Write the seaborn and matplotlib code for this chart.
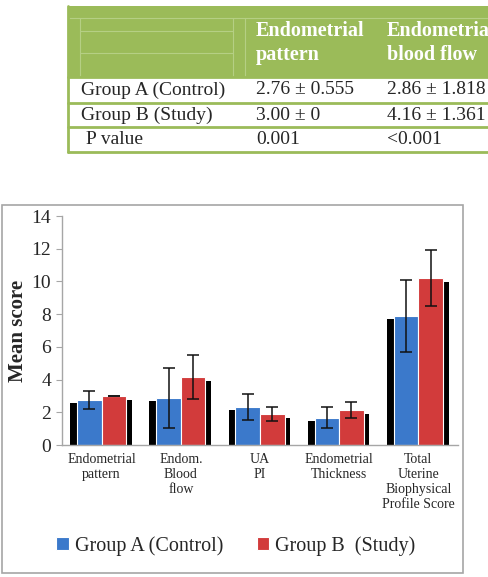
import numpy as np
import pandas as pd
import matplotlib
matplotlib.use("Agg")
import matplotlib.pyplot as plt
import matplotlib.patheffects as pe
from matplotlib.patches import Rectangle
import seaborn as sns

# chart data
categories = ["Endometrial\npattern", "Endom.\nBlood\nflow", "UA\nPI",
              "Endometrial\nThickness", "Total\nUterine\nBiophysical\nProfile Score"]
groups = ["Group A (Control)", "Group B  (Study)"]
mean_a = [2.76, 2.86, 2.33, 1.68, 7.90]
sd_a = [0.555, 1.818, 0.78, 0.62, 2.20]
mean_b = [3.00, 4.16, 1.90, 2.15, 10.20]
sd_b = [0.0, 1.361, 0.45, 0.50, 1.70]
y_ticks = [0, 2, 4, 6, 8, 10, 12, 14]

# table data
table_header = ["", "Endometrial\npattern", "Endometrial\nblood flow"]
table_rows = [
    ["Group A (Control)", "2.76 \u00b1 0.555", "2.86 \u00b1 1.818"],
    ["Group B (Study)", "3.00 \u00b1 0", "4.16 \u00b1 1.361"],
    [" P value", "0.001", "<0.001"],
]

blue = "#3b79cb"
red = "#d23b3b"
green = "#9bbb59"
serif = "Liberation Serif"

sns.set_style("white")
plt.rcParams["font.family"] = [serif, "DejaVu Serif"]

W, H = 489, 577
fig = plt.figure(figsize=(W / 100, H / 100), dpi=100)

# overlay axes in pixel units for the table and the chart frame
over = fig.add_axes([0, 0, 1, 1], zorder=0)
over.set_xlim(0, W)
over.set_ylim(H, 0)
over.axis("off")

# table
over.add_patch(Rectangle((68, 6), W - 68, 71, facecolor=green, edgecolor="none"))
over.plot([68, W], [18, 18], color="#b5cf84", lw=0.8)
for y in [31, 53]:
    over.plot([80, 233], [y, y], color="#b5cf84", lw=0.8)
for x in [80, 233, 245]:
    over.plot([x, x], [18, 77], color="#b5cf84", lw=0.8)
for y in [77, 103, 127, 152]:
    over.plot([68, W], [y, y], color=green, lw=2)
over.plot([68, 68], [6, 152], color=green, lw=2)

col_x = [81, 256, 387]
for j, h in enumerate(table_header):
    if h:
        over.text(col_x[j], 43, h, color="white", fontsize=14.5, fontweight="bold",
                  va="center", ha="left", linespacing=1.3)
row_y = [90, 115, 140]
for i, row in enumerate(table_rows):
    for j, cell in enumerate(row):
        over.text(col_x[j], row_y[i], cell, fontsize=14, va="center", ha="left")

# chart frame
over.add_patch(Rectangle((2, 205), 461, 368, facecolor="white",
                         edgecolor="#a6a6a6", lw=1.2))

# data frame for seaborn
df = pd.DataFrame({
    "category": categories * 2,
    "group": [groups[0]] * len(categories) + [groups[1]] * len(categories),
    "mean": mean_a + mean_b,
})

ax = fig.add_axes([62 / W, 1 - 445 / H, 396 / W, 229 / H], zorder=1)
ax.patch.set_alpha(0)
sns.barplot(data=df, x="category", y="mean", hue="group", order=categories,
            hue_order=groups, palette=[blue, red], saturation=1, width=0.62,
            errorbar=None, edgecolor="white", linewidth=0.8, ax=ax)

offsets = [(-5, -2.2), (4, -2.8)]
sds = [sd_a, sd_b]
bar_conts = list(ax.containers)
for k, cont in enumerate(bar_conts):
    for p in cont:
        p.set_path_effects([pe.SimplePatchShadow(offset=offsets[k], shadow_rgbFace="black",
                                                 alpha=1.0), pe.Normal()])
    xs = [p.get_x() + p.get_width() / 2 for p in cont]
    ys = [p.get_height() for p in cont]
    ax.errorbar(xs, ys, yerr=sds[k], fmt="none", ecolor="#111111", elinewidth=1.1,
                capsize=4, capthick=1.1, zorder=5)

ax.set_xlim(-0.5, len(categories) - 0.5)
ax.set_ylim(0, 14)
ax.set_yticks(y_ticks)
ax.set_yticklabels([str(t) for t in y_ticks], fontsize=14)
ax.set_xticks(range(len(categories)))
ax.set_xticklabels(categories, fontsize=10, linespacing=1.2)
ax.set_xticks(np.arange(-0.5, len(categories), 1.0), minor=True)
ax.tick_params(axis="x", which="major", length=0, pad=6)
ax.tick_params(axis="x", which="minor", length=5, color="#a6a6a6", direction="out")
ax.tick_params(axis="y", length=4, color="#a6a6a6", direction="out", left=True, pad=4)
for s in ["top", "right"]:
    ax.spines[s].set_visible(False)
for s in ["left", "bottom"]:
    ax.spines[s].set_color("#a6a6a6")
    ax.spines[s].set_linewidth(1)
ax.set_xlabel("")
ax.set_ylabel("Mean score", fontsize=15, fontweight="bold", va="center")
ax.yaxis.set_label_coords(-44 / 396, 0.5)

handles, labels = ax.get_legend_handles_labels()
ax.legend_.remove()
fig.legend(handles, labels, loc="center", bbox_to_anchor=(236 / W, 1 - 546 / H),
           ncol=2, frameon=False, fontsize=14.5, handlelength=0.6, handleheight=0.6,
           handletextpad=0.3, columnspacing=1.7)

fig.savefig("out.png", dpi=100)
